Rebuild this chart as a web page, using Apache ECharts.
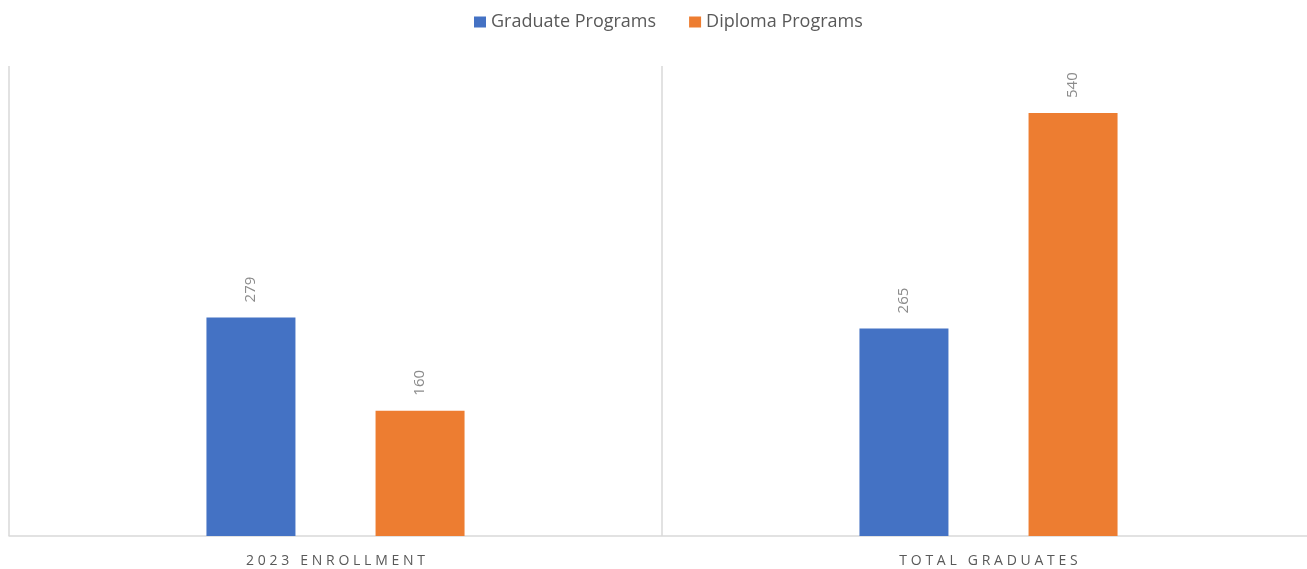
<!DOCTYPE html>
<html>
<head>
<meta charset="utf-8">
<title>Enrollment and Graduates</title>
<script src="https://cdn.jsdelivr.net/npm/echarts@6/dist/echarts.min.js"></script>
<style>
  html, body { margin: 0; padding: 0; background: #fff; }
  #chart { width: 1307px; height: 569px; }
</style>
</head>
<body>
<div id="chart"></div>
<script>
// data
var categories = ['2023 ENROLLMENT', 'TOTAL GRADUATES'];
var seriesNames = ['Graduate Programs', 'Diploma Programs'];
var graduateValues = [279, 265];
var diplomaValues = [160, 540];

var chart = echarts.init(document.getElementById('chart'));

// spread letters a bit, like the original axis labels
function spaced(s) {
  return s.split('').join('\u2009\u200A');
}

var labelStyle = {
  show: true,
  position: 'top',
  rotate: 90,
  align: 'left',
  verticalAlign: 'middle',
  distance: 15,
  color: '#8c8c8c',
  fontSize: 15,
  fontFamily: 'Open Sans'
};

var option = {
  animation: false,
  textStyle: { fontFamily: 'Open Sans' },
  legend: {
    top: 8,
    left: 469,
    itemWidth: 12,
    itemHeight: 11,
    itemGap: 33,
    icon: 'rect',
    data: seriesNames,
    textStyle: { color: '#595959', fontSize: 18, fontFamily: 'Open Sans' }
  },
  // right edge runs a bit past the canvas, like the original
  grid: {
    left: 9,
    top: 66,
    right: -8,
    bottom: 33,
    outerBoundsMode: 'none'
  },
  xAxis: {
    type: 'category',
    data: categories,
    axisTick: { show: false },
    axisLine: { lineStyle: { color: '#d9d9d9', width: 1.5 } },
    splitLine: { show: true, interval: 0, lineStyle: { color: '#d9d9d9', width: 1.5 } },
    axisLabel: {
      color: '#595959',
      fontSize: 14,
      margin: 18,
      formatter: function (v) { return spaced(v); }
    }
  },
  yAxis: {
    type: 'value',
    min: 0,
    max: 600,
    show: false,
    splitLine: { show: false }
  },
  series: [
    {
      name: seriesNames[0],
      type: 'bar',
      data: graduateValues,
      barWidth: 89,
      barGap: '90%',
      itemStyle: { color: '#4472C4' },
      label: labelStyle
    },
    {
      name: seriesNames[1],
      type: 'bar',
      data: diplomaValues,
      barWidth: 89,
      itemStyle: { color: '#ED7D31' },
      label: labelStyle
    }
  ]
};

chart.setOption(option);
</script>
</body>
</html>
